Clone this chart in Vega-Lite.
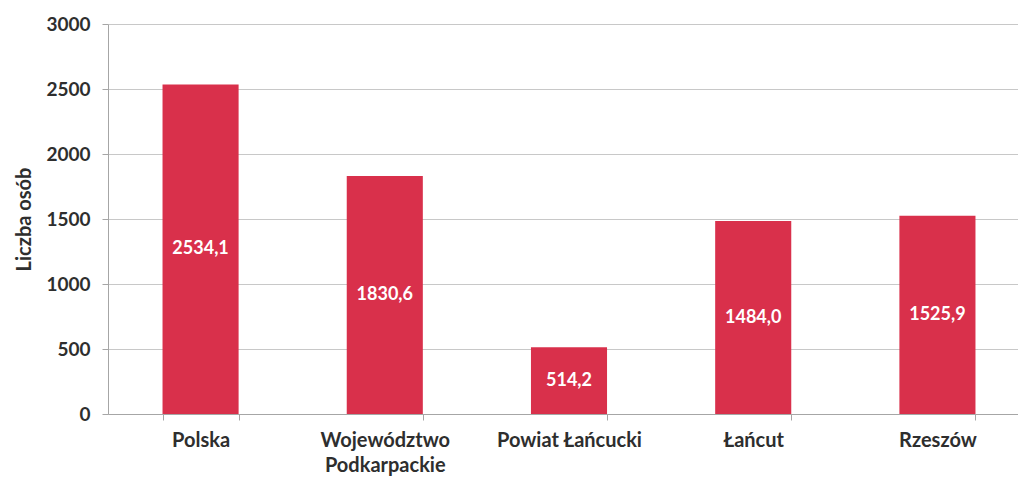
{
  "$schema": "https://vega.github.io/schema/vega-lite/v6.json",
  "width": 922,
  "height": 390,
  "autosize": {"type": "none"},
  "padding": {"left": 108, "top": 24, "right": 0, "bottom": 68},
  "background": "white",
  "config": {"view": {"stroke": null}, "font": "Lato"},
  "data": {"values": [
    {"kategoria": "Polska", "value": 2534.1, "label": "2534,1"},
    {"kategoria": "Województwo Podkarpackie", "value": 1830.6, "label": "1830,6"},
    {"kategoria": "Powiat Łańcucki", "value": 514.2, "label": "514,2"},
    {"kategoria": "Łańcut", "value": 1484.0, "label": "1484,0"},
    {"kategoria": "Rzeszów", "value": 1525.9, "label": "1525,9"}
  ]},
  "encoding": {
    "x": {"field": "kategoria", "type": "nominal", "sort": null,
      "scale": {"paddingInner": 0.587, "paddingOuter": 0.296},
      "axis": {"title": null, "labelAngle": 0, "labelFont": "Lato", "labelFontWeight": "bold", "labelFontSize": 20, "labelColor": "#2e2e2e",
        "labelPadding": 10, "labelLineHeight": 25,
        "labelExpr": "datum.label == 'Województwo Podkarpackie' ? ['Województwo', 'Podkarpackie'] : datum.label",
        "tickBand": "extent", "tickSize": 6, "tickColor": "#a6a6a6", "domainColor": "#a6a6a6", "grid": false}}
  },
  "layer": [
    {
      "mark": {"type": "bar", "color": "#d9304b"},
      "encoding": {
        "y": {"field": "value", "type": "quantitative",
          "scale": {"domain": [0, 3000]},
          "axis": {"title": "Liczba osób", "titleFont": "Lato", "titleFontSize": 20, "titleFontWeight": "bold", "titleColor": "#2e2e2e", "titlePadding": 11,
            "values": [0, 500, 1000, 1500, 2000, 2500, 3000], "format": "d",
            "labelFont": "Lato", "labelFontWeight": "bold", "labelFontSize": 19, "labelColor": "#2e2e2e", "labelPadding": 12,
            "tickSize": 6, "tickColor": "#a6a6a6", "domainColor": "#a6a6a6",
            "grid": true, "gridColor": "#c8c8c8"}}
      }
    },
    {
      "mark": {"type": "text", "color": "white", "fontWeight": "bold", "fontSize": 18, "font": "Lato", "baseline": "middle"},
      "encoding": {
        "y": {"field": "value", "type": "quantitative", "scale": {"domain": [0, 6000]}, "axis": null},
        "text": {"field": "label"}
      }
    }
  ],
  "resolve": {"scale": {"y": "independent"}}
}
